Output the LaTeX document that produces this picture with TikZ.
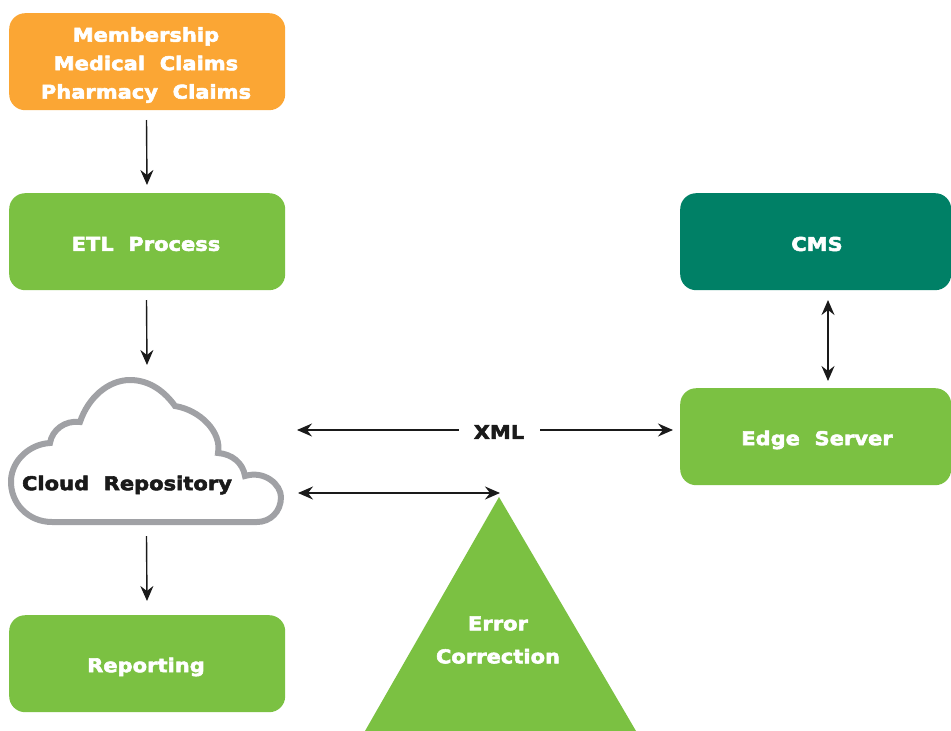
\documentclass[tikz,border=0pt]{standalone}
\usepackage{fontspec}
\setmainfont{DejaVu Sans}[BoldFont=DejaVu Sans Bold,BoldFeatures={FakeBold=3,FakeStretch=1.1,LetterSpace=0.4,WordSpace=2.0}]
\usetikzlibrary{arrows.meta}
\definecolor{lime}{HTML}{7BC142}
\definecolor{orng}{HTML}{FBA634}
\definecolor{teal2}{HTML}{008066}
\definecolor{cloudg}{HTML}{A0A1A5}
\definecolor{ink}{HTML}{1A1A1A}
\tikzset{x=1pt,y=-1pt,
 boxn/.style={rounded corners=16pt,minimum width=276pt,minimum height=97pt,inner sep=0pt,anchor=north west},
 arr/.style={-{Stealth[length=15pt,width=13pt,inset=5pt]},draw=ink,line width=1.4pt},
 darr/.style={{Stealth[length=15pt,width=13pt,inset=5pt]}-{Stealth[length=15pt,width=13pt,inset=5pt]},draw=ink,line width=1.4pt},
 larr/.style={{Stealth[length=15pt,width=13pt,inset=5pt]}-,draw=ink,line width=1.4pt},
 lab/.style={font=\fontsize{19}{29}\selectfont\bfseries,inner sep=0pt,align=center},
 labw/.style={lab,text=white}}
\begin{document}
\begin{tikzpicture}
\useasboundingbox (0,0) rectangle (951,731);
\node[boxn,fill=orng] (src) at (9,13) {};
\node[boxn,fill=lime] (etl) at (9,193) {};
\node[boxn,fill=lime] (rep) at (9,615) {};
\node[boxn,fill=teal2,minimum width=271pt] (cms) at (680,193) {};
\node[boxn,fill=lime,minimum width=271pt] (edge) at (680,388) {};
\node[labw] (srct) at (146,65) {Membership\\[-0.5pt]Medical Claims\\[-0.5pt]Pharmacy Claims};
\node[labw] (etlt) at (146,244) {ETL Process};
\node[labw] (rept) at (146,667) {Reporting};
\node[labw] (cmst) at (817,244) {CMS};
\node[labw] (edget) at (817,440) {Edge Server};
\draw[cloudg,line width=6pt,fill=white,line join=miter]
 (52,522) .. controls (28,522) and (10,503) .. (11,480)
 .. controls (12,460) and (30,444) .. (50,443)
 .. controls (52,430) and (65,420) .. (80,422)
 .. controls (88,398) and (108,380) .. (130,380)
 .. controls (150,380) and (165,392) .. (175,406)
 .. controls (200,410) and (222,432) .. (218,453)
 .. controls (232,454) and (243,463) .. (245,476)
 .. controls (265,470) and (281,485) .. (281,497)
 .. controls (281,512) and (270,522) .. (257,522) -- cycle;
\node[lab,text=ink] (cloudt) at (127,485) {Cloud Repository};
\fill[lime] (499,497) -- (636,731) -- (365,731) -- cycle;
\node[labw] (err) at (498,640) {Error\\[4pt]Correction};
\node[lab,text=ink] (xml) at (499,432) {XML};
\coordinate (a1) at (146.5,120); \coordinate (a2) at (147,185);
\coordinate (b1) at (146.5,300); \coordinate (b2) at (147,365);
\coordinate (c1) at (146.5,536); \coordinate (c2) at (147,601);
\coordinate (d1) at (828,300); \coordinate (d2) at (828,381);
\coordinate (x1) at (297,430); \coordinate (x2) at (459,430);
\coordinate (x3) at (540,430); \coordinate (x4) at (673,430);
\coordinate (t1) at (298,493); \coordinate (t2) at (500,493);
\draw[arr] (a1) -- (a2);
\draw[arr] (b1) -- (b2);
\draw[arr] (c1) -- (c2);
\draw[darr] (d1) -- (d2);
\draw[larr] (x1) -- (x2);
\draw[arr] (x3) -- (x4);
\draw[darr] (t1) -- (t2);
\end{tikzpicture}
\end{document}
